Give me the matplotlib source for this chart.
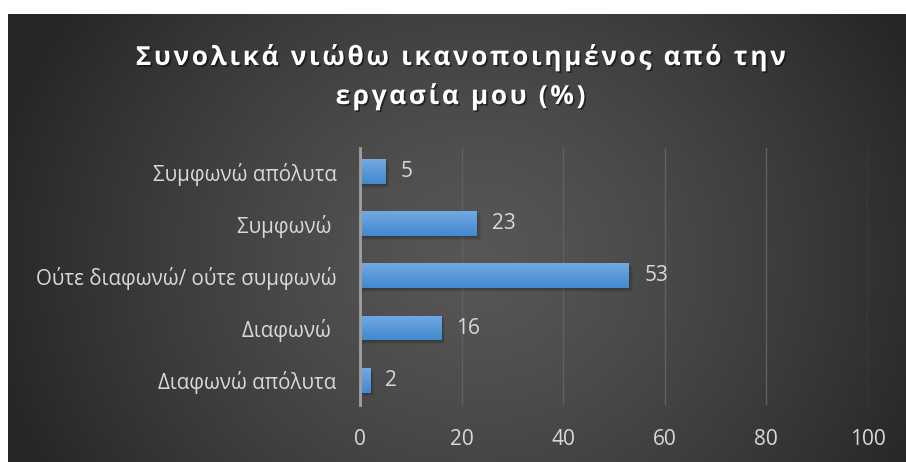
import numpy as np
import matplotlib
matplotlib.use("Agg")
import matplotlib.pyplot as plt
import matplotlib.patheffects as pe
from matplotlib.patches import Rectangle

categories = ["Διαφωνώ απόλυτα", "Διαφωνώ ", "Ούτε διαφωνώ/ ούτε συμφωνώ", "Συμφωνώ ", "Συμφωνώ απόλυτα"]
values = [2, 16, 53, 23, 5]
xticks = [0, 20, 40, 60, 80, 100]
title_lines = ["Συνολικά νιώθω ικανοποιημένος από την", "εργασία μου (%)"]

plt.rcParams["font.family"] = ["Open Sans", "DejaVu Sans"]
W, H, DPI = 906, 462, 100
fig = plt.figure(figsize=(W / DPI, H / DPI), dpi=DPI)
fig.patch.set_facecolor("white")

# dark radial-gradient panel
bg = fig.add_axes([8 / W, 0, 1 - 8 / W, 1 - 14 / H])
bg.set_axis_off()
yy, xx = np.mgrid[0:1:300j, 0:1:600j]
cx, cy = 0.52, 0.55
r = np.sqrt((xx - cx) ** 2 + ((yy - cy) * 0.55) ** 2)
r = np.clip(r / 0.55, 0, 1)
shade = 0.34 - 0.19 * r ** 1.3
img = np.dstack([shade, shade, shade])
bg.imshow(img, aspect="auto", extent=[0, 1, 0, 1], interpolation="bilinear")
bg.set_xlim(0, 1)
bg.set_ylim(0, 1)

ax = fig.add_axes([360 / W, 1 - 405 / H, (867.5 - 360) / W, (405 - 148) / H])
ax.patch.set_alpha(0)
y = np.arange(len(categories))
bh = 0.48
bars = ax.barh(y, values, height=bh, color="#5b9bd5", zorder=3)

# soft shadow and vertical gradient on each bar
grad = np.linspace(0, 1, 50).reshape(-1, 1)
top = np.array([0.45, 0.66, 0.89])
bot = np.array([0.26, 0.54, 0.81])
gimg = top * (1 - grad[..., None]) + bot * grad[..., None]
gimg = gimg.reshape(50, 1, 3)
for yi, v, b in zip(y, values, bars):
    for k, a in enumerate([0.10, 0.08, 0.06]):
        off = 0.3 + 0.25 * k
        ax.add_patch(Rectangle((0, yi - bh / 2 - 0.03 - 0.015 * k), v + off, bh,
                               color="black", alpha=a, zorder=2, lw=0))
    im = ax.imshow(gimg, extent=[0, v, yi - bh / 2, yi + bh / 2], aspect="auto",
                   zorder=4, interpolation="bilinear")
    im.set_clip_path(b)
    ax.text(v + 3, yi, str(v), va="center", ha="left", color="#d9d9d9",
            fontsize=15, zorder=5)

ax.set_xlim(0, 100)
ax.set_ylim(-0.48, 4.46)
ax.set_xticks(xticks)
ax.set_xticklabels([str(t) for t in xticks])
ax.set_yticks(y)
ax.set_yticklabels(categories)
ax.grid(axis="x", color="#606060", lw=1.0, zorder=0)
for s in ["top", "right", "bottom"]:
    ax.spines[s].set_visible(False)
ax.spines["left"].set_color("#a0a0a0")
ax.spines["left"].set_linewidth(2)
ax.spines["left"].set_zorder(6)
ax.tick_params(axis="both", length=0, colors="#d9d9d9")
ax.tick_params(axis="x", pad=17, labelsize=15)
ax.tick_params(axis="y", pad=17, labelsize=14.8)

# spaced-out bold title with a soft drop shadow
shadow = [pe.SimplePatchShadow(offset=(1.2, -1.2), shadow_rgbFace="black", alpha=0.5),
          pe.Normal()]
for line, base in zip(title_lines, [65, 104]):
    spaced = "\u200a".join(line)
    fig.text(0.508, 1 - base / H, spaced, ha="center", va="baseline", color="white",
             fontsize=18.9, fontweight="bold", path_effects=shadow)

fig.savefig("out.png", dpi=DPI)
